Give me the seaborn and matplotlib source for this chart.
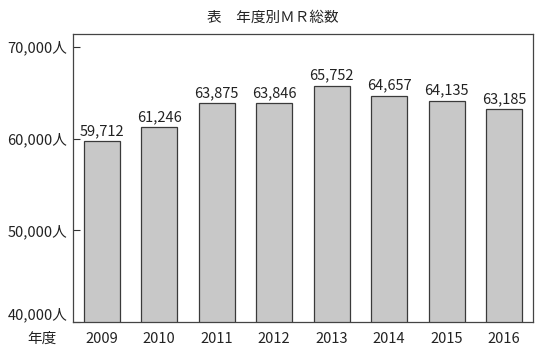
import pandas as pd
import matplotlib
matplotlib.use("Agg")
import matplotlib.pyplot as plt
import seaborn as sns

# --- DATA ---
years = ["2009", "2010", "2011", "2012", "2013", "2014", "2015", "2016"]
totals = [59712, 61246, 63875, 63846, 65752, 64657, 64135, 63185]
y_ticks = [40000, 50000, 60000, 70000]

df = pd.DataFrame({"year": years, "total": totals})

sns.set_style("white")
plt.rcParams['font.family'] = ['Noto Sans CJK JP', 'DejaVu Sans']

fig = plt.figure(figsize=(5.4, 3.51), dpi=100)
ax = fig.add_axes([0.135, 0.083, 0.852, 0.820])

sns.barplot(data=df, x="year", y="total", color="#c8c8c8", edgecolor="#3a3a3a",
            linewidth=0.9, width=0.63, saturation=1, ax=ax)

for i, v in enumerate(totals):
    ax.text(i, v + 350, f"{v:,}", ha="center", va="bottom", fontsize=10.5, color="#222222")

ax.set_ylim(40000, 71400)
ax.set_xlim(-0.5, 7.5)
ax.set_yticks(y_ticks)
ax.set_yticklabels([f"{t:,}人" for t in y_ticks], fontsize=10.5, color="#222222")
ax.get_yticklabels()[0].set_verticalalignment("bottom")  # bottom label sits above the axis line
ax.tick_params(axis="y", left=True, direction="in", length=5, width=0.8, color="#333333", pad=4)
ax.tick_params(axis="x", bottom=False, labelsize=10.5, labelcolor="#222222", pad=4)
ax.set_xlabel("")
ax.set_ylabel("")
for s in ax.spines.values():
    s.set_color("#444444")
    s.set_linewidth(0.9)

ax.text(-0.067, -0.034, "年度", transform=ax.transAxes, ha="center", va="top",
        fontsize=10.5, color="#222222")
fig.text(0.505, 0.95, "表　年度別ＭＲ総数", ha="center", va="center", fontsize=10.5, color="#222222")

plt.savefig("out.png", dpi=100)
